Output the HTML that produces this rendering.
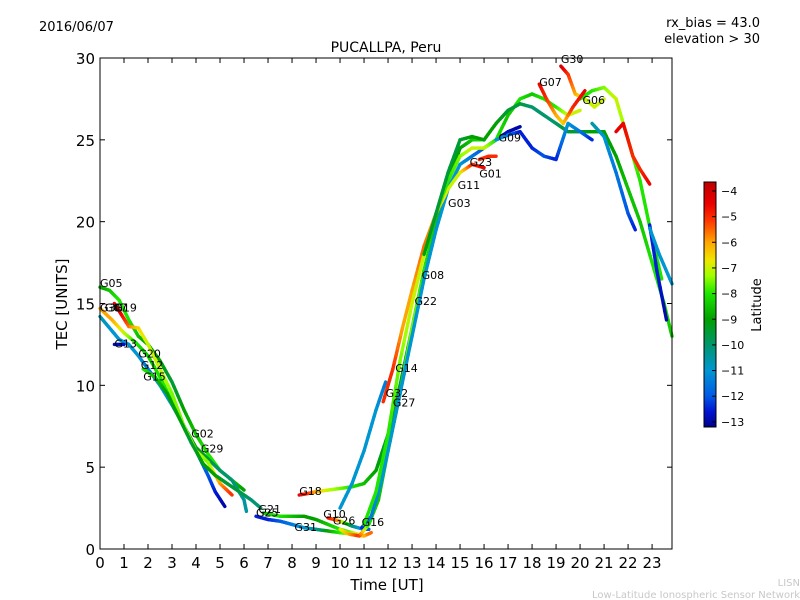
<!DOCTYPE html>
<html><head><meta charset="utf-8"><style>
html,body{margin:0;padding:0;background:#fff;}
svg{display:block;font-family:"DejaVu Sans","Liberation Sans",sans-serif;}
</style></head><body>
<svg id="chart" width="800" height="600" viewBox="0 0 800 600">
<text x="39" y="31" font-size="13">2016/06/07</text>
<text x="760" y="27" font-size="13" text-anchor="end">rx_bias = 43.0</text>
<text x="760" y="43" font-size="13" text-anchor="end">elevation &gt; 30</text>
<text x="386" y="52" font-size="14" text-anchor="middle">PUCALLPA, Peru</text>
<text x="387" y="590" font-size="15" text-anchor="middle">Time [UT]</text>
<text transform="translate(67,304) rotate(-90)" font-size="15" text-anchor="middle">TEC [UNITS]</text>
<text transform="translate(761,305) rotate(-90)" font-size="13" text-anchor="middle">Latitude</text>
<text x="800" y="586" font-size="10" fill="#c8c8c8" text-anchor="end">LISN</text>
<text x="800" y="598" font-size="10" fill="#c8c8c8" text-anchor="end">Low-Latitude Ionospheric Sensor Network</text>
<g id="plot"></g>
<g id="axes"></g>
<g id="cbar"></g>
</svg>
<script>
const xTicks=[0,1,2,3,4,5,6,7,8,9,10,11,12,13,14,15,16,17,18,19,20,21,22,23];
const yTicks=[0,5,10,15,20,25,30];
const cbTicks=[-4,-5,-6,-7,-8,-9,-10,-11,-12,-13];
const t1=[0,0.4,0.8,1.2,1.6,2,2.5,3,3.5,4,4.5,5,5.5,6];
const v1=[16,15.8,15.2,14,13,12.5,11.5,10.2,8.5,7,5.8,4.8,4.2,3.6];
const l1=[-9,-8.5,-8,-8,-8.5,-9,-9,-9.5,-9,-8.5,-8,-8,-8.5,-9];
const t2=[0,0.5,1,1.5,2,2.5,3,3.5,4,4.5,5,5.5,6,6.1];
const v2=[14.7,14,13.2,12.6,11.8,10.5,9,7.5,6.2,5.5,4.8,4.2,3,2.3];
const l2=[-6,-6,-7,-8,-8.5,-8,-8,-8.5,-9,-9.5,-10,-10,-10.5,-10.5];
const t3=[0,0.4,0.8,1.2,1.6,2,2.5,3,3.5,4,4.5,4.8,5.2];
const v3=[14.2,13.5,12.8,12.5,11.8,11,10,8.8,7.5,6,4.5,3.5,2.6];
const l3=[-10.5,-11,-11,-11,-11,-11.5,-11,-11,-11,-11.5,-12,-12.5,-13];
const t4=[0.6,0.9,1.2,1.6,2,2.5,3,3.5,4,4.5,5,5.5];
const v4=[15,14.3,13.6,13.5,12.5,11,9.5,7.5,6,5.3,4,3.3];
const l4=[-4.5,-4.5,-5.5,-6.5,-7,-7,-7.5,-7.5,-7,-7.5,-6,-5];
const t5=[0.6,1];
const v5=[12.5,12.5];
const l5=[-12.8,-12.8];
const t6=[1.8,2.3,2.8,3.3,3.8,4.3,4.8,5.3,5.8,6.3,6.7];
const v6=[11,10.5,9.5,8,6.5,5.2,4.5,4,3.5,3,2.5];
const l6=[-8,-8.5,-9,-9,-9.5,-9,-9,-9.5,-9.5,-10,-10];
const t7=[6.5,7,7.5,8,8.5,9,9.5,10,10.5,11,11.3];
const v7=[2,1.8,1.7,1.5,1.3,1.2,1.1,1,0.9,0.8,1.0];
const l7=[-12.5,-12.5,-12,-11.5,-11,-10.5,-9,-8,-7,-6,-5.5];
const t8=[6.8,7.5,8,8.5,9,9.5,10,10.5,11];
const v8=[2.2,2,2,2,1.8,1.5,1.2,1,0.8];
const l8=[-8.5,-8,-8.5,-9,-9,-8.5,-8,-7.5,-6];
const t9=[8.3,8.7,9,9.5,10,10.5,11,11.5,12,12.5,13,13.5,14,14.5,15];
const v9=[3.3,3.4,3.5,3.6,3.7,3.8,4,4.8,7,10,13.5,17,20,22.5,24.5];
const l9=[-4.5,-5,-6,-7,-7.5,-8,-8.5,-9,-9.5,-9.5,-9.5,-9,-9,-9.5,-9.5];
const t10=[9.5,10,10.5,11,11.2];
const v10=[1.9,1.7,1.4,1.2,1.2];
const l10=[-4.5,-6,-10,-11.5,-12];
const t11=[10,10.4,10.8,11.2,11.6,12,12.5,13,13.5,14,14.5,15,15.5,16];
const v11=[1.2,0.9,0.8,1.5,3,6,9.5,13.5,17,20,22.5,24.5,25,25];
const l11=[-7,-6,-5,-8,-8.5,-8.5,-8,-7.5,-8,-8.5,-9,-9,-8.5,-8];
const t12=[10.9,11.3,11.7,12,12.5,13,13.5,14,14.5,15,15.5,16,16.5,17,17.5];
const v12=[1.3,2,4,6,9.5,13,16.5,19.5,22,23.5,24,24.5,25,25.5,25.8];
const l12=[-12.5,-11.5,-11,-11,-11,-11,-11,-11,-11,-11,-11.5,-12,-12.5,-12.8,-13];
const t13=[10,10.5,11,11.5,11.9];
const v13=[2.5,4,6,8.5,10.2];
const l13=[-11,-11,-11,-11,-11.5];
const t14=[11.8,12.2,12.6,13,13.5,14,14.5,15,15.5,16];
const v14=[9,11,13.5,15.8,18.5,20.5,22,23,23.5,23.3];
const l14=[-5,-5,-6,-6,-5.5,-6,-7,-7,-5,-4.5];
const t15=[11,11.5,12,12.5,13,13.5,14,14.5,15,15.5,16,16.5,17,17.5,18,18.5,19,19.5,20];
const v15=[1.5,3.5,7,11.5,15,18,20.5,22.5,24,24.5,24.5,25,26.5,27.5,27.8,27.5,27,26.5,26.8];
const l15=[-8,-8,-8,-7.5,-7,-7,-7.5,-8,-7.5,-7,-7,-8,-8.5,-8,-8.5,-8,-8,-7,-7];
const t16=[13.5,14,14.5,15,15.5,16,16.5,17,17.5,18,18.5,19,19.5,20,20.5,21,21.5,22,22.5,23,23.5,23.83];
const v16=[18,20.5,23,25,25.2,25,26,26.8,27.2,27,26.5,26,25.5,25.5,25.5,25.5,24,22,20,17.5,15,13];
const l16=[-9,-9.5,-9.5,-9.5,-9,-9,-9,-9.5,-9.5,-10,-10,-10,-9.5,-9.5,-9,-9,-9,-8.5,-8.5,-8,-8,-8.5];
const t17=[19.2,19.5,19.8,20.2,20.6,21];
const v17=[29.5,29,27.8,27.5,27,27.5];
const l17=[-4,-5,-6,-7,-7,-7];
const t18=[20,20.5,21,21.5,22,22.5,23,23.4];
const v18=[27.5,28,28.2,27.5,25,22.5,19,16.5];
const l18=[-8,-8,-7.5,-7,-7.5,-8,-8,-8];
const t19=[18.3,18.6,19,19.3,19.7,20.2];
const v19=[28.4,27.5,26.5,26,27,28];
const l19=[-4.5,-5,-6,-6.5,-5,-4.5];
const t20=[16.5,17,17.5,18,18.5,19,19.5,20,20.5];
const v20=[25,25.3,25.5,24.5,24,23.8,26,25.5,25];
const l20=[-11,-11.5,-12.5,-12.5,-12,-12.5,-11,-11.5,-12.5];
const t21=[21.5,21.8,22.2,22.5,22.9];
const v21=[25.5,26,24,23.2,22.3];
const l21=[-4.5,-4.5,-5,-5,-4.5];
const t22=[20.5,21,21.5,22,22.3];
const v22=[26,25.2,23,20.5,19.5];
const l22=[-10.5,-11,-11.5,-12,-12.5];
const t23=[22.9,23.2,23.6];
const v23=[19.8,17,14];
const l23=[-12.5,-12.5,-13];
const t24=[22.9,23.3,23.83];
const v24=[19.6,18,16.2];
const l24=[-11,-11,-11];
const t25=[15.8,16.2,16.5];
const v25=[23.8,24,24];
const l25=[-5,-5,-5];
const tracks=[[t1,v1,l1],[t2,v2,l2],[t3,v3,l3],[t4,v4,l4],[t5,v5,l5],[t6,v6,l6],[t7,v7,l7],[t8,v8,l8],[t9,v9,l9],[t10,v10,l10],[t11,v11,l11],[t12,v12,l12],[t13,v13,l13],[t14,v14,l14],[t15,v15,l15],[t16,v16,l16],[t17,v17,l17],[t18,v18,l18],[t19,v19,l19],[t20,v20,l20],[t21,v21,l21],[t22,v22,l22],[t23,v23,l23],[t24,v24,l24],[t25,v25,l25]];
const labelNames=["G05","G30","G07","G19","G13","G20","G12","G15","G02","G29","G18","G25","G21","G31","G10","G26","G16","G32","G27","G14","G22","G08","G03","G11","G01","G23","G09","G07","G30","G06"];
const labelT=[0,0,0.2,0.6,0.6,1.6,1.7,1.8,3.8,4.2,8.3,6.5,6.6,8.1,9.3,9.7,10.9,11.9,12.2,12.3,13.1,13.4,14.5,14.9,15.8,15.4,16.6,18.3,19.2,20.1];
const labelV=[16.0,14.5,14.5,14.5,12.3,11.7,11.0,10.3,6.8,5.9,3.3,2.0,2.2,1.1,1.9,1.5,1.4,9.3,8.7,10.8,14.9,16.5,20.9,22.0,22.7,23.4,24.9,28.3,29.7,27.2];
const SVGNS="http://www.w3.org/2000/svg";
const X0=100,X1=672,Y0=549,Y1=58;
const TMAX=23.83,VMAX=30;
function xs(t){return X0+(X1-X0)*t/TMAX;}
function ys(v){return Y0-(Y0-Y1)*v/VMAX;}
const LMIN=-13.2,LMAX=-3.65;
const CM=[[-13.2,0,0,140],[-12.6,0,20,210],[-12,0,90,230],[-11,0,150,210],[-10,0,150,110],[-9,0,160,0],[-8,30,230,0],[-7.3,160,255,0],[-6.7,240,230,0],[-6,255,165,0],[-5.2,255,60,0],[-4.5,235,0,0],[-3.65,190,0,0]];
function jet(l){
 if(l<=CM[0][0])return "rgb("+CM[0].slice(1).join(",")+")";
 for(let i=0;i<CM.length-1;i++){const a=CM[i],b=CM[i+1];
  if(l<=b[0]){const f=(l-a[0])/(b[0]-a[0]);
   return "rgb("+[1,2,3].map(k=>Math.round(a[k]+(b[k]-a[k])*f)).join(",")+")";}}
 return "rgb("+CM[CM.length-1].slice(1).join(",")+")";}
function mk(tag,attrs,parent){const e=document.createElementNS(SVGNS,tag);for(const k in attrs)e.setAttribute(k,attrs[k]);parent.appendChild(e);return e;}
const plot=document.getElementById('plot');
tracks.forEach((tr,ti)=>{
 const g=mk('g',{},plot);
 
 
 const [T,V,L]=tr;
 for(let i=0;i<T.length-1;i++){
  const n=6;
  for(let k=0;k<n;k++){
   const a=k/n,b=(k+1)/n;
   const ln=mk('line',{x1:xs(T[i]+(T[i+1]-T[i])*a),y1:ys(V[i]+(V[i+1]-V[i])*a),x2:xs(T[i]+(T[i+1]-T[i])*b),y2:ys(V[i]+(V[i+1]-V[i])*b),stroke:jet(L[i]+(L[i+1]-L[i])*(a+b)/2),'stroke-width':3.4,'stroke-linecap':'round'},g);
   
   
  }
 }
});
labelNames.forEach((nm,i)=>{
 const tx=mk('text',{x:xs(labelT[i]),y:ys(labelV[i]),'font-size':11},plot);
 tx.textContent=nm;
 
 
});
const axes=document.getElementById('axes');
const fr=mk('rect',{x:X0,y:Y1,width:X1-X0,height:Y0-Y1,fill:'none',stroke:'#000','stroke-width':1},axes);


xTicks.forEach(t=>{
 const x=xs(t);
 mk('line',{x1:x,y1:Y0,x2:x,y2:Y0-5,stroke:'#000'},axes);
 mk('line',{x1:x,y1:Y1,x2:x,y2:Y1+5,stroke:'#000'},axes);
 const tx=mk('text',{x:x,y:Y0+19,'font-size':15,'text-anchor':'middle'},axes);
 tx.textContent=t;
 
 
});
yTicks.forEach(v=>{
 const y=ys(v);
 mk('line',{x1:X0,y1:y,x2:X0+5,y2:y,stroke:'#000'},axes);
 mk('line',{x1:X1,y1:y,x2:X1-5,y2:y,stroke:'#000'},axes);
 const tx=mk('text',{x:X0-5,y:y+6,'font-size':15,'text-anchor':'end'},axes);
 tx.textContent=v;
 
 
});
const cb=document.getElementById('cbar');
const CX=704,CW=12,CT=182,CB=427;
for(let i=0;i<CB-CT;i++){
 const l=LMAX-(LMAX-LMIN)*(i+0.5)/(CB-CT);
 mk('rect',{x:CX,y:CT+i,width:CW,height:1.2,fill:jet(l)},cb);
}
const cbf=mk('rect',{x:CX,y:CT,width:CW,height:CB-CT,fill:'none',stroke:'#000'},cb);


cbTicks.forEach(l=>{
 const y=CT+(LMAX-l)/(LMAX-LMIN)*(CB-CT);
 mk('line',{x1:CX+CW-4,y1:y,x2:CX+CW,y2:y,stroke:'#000'},cb);
 const tx=mk('text',{x:CX+CW+5,y:y+4,'font-size':11},cb);
 tx.textContent='\u2212'+Math.abs(l);
 
 
});
</script>
</body></html>
